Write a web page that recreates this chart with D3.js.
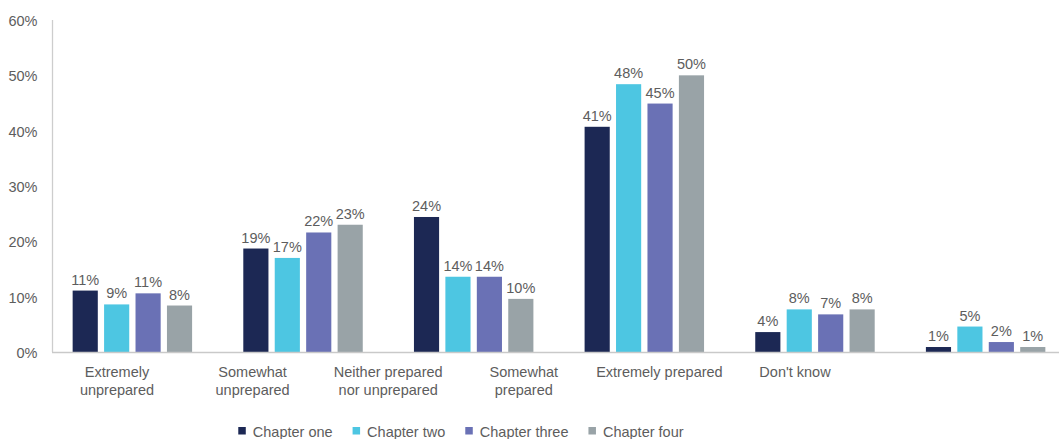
<!DOCTYPE html>
<html>
<head>
<meta charset="utf-8">
<script src="https://cdn.jsdelivr.net/npm/d3@7"></script>
<style>
  html, body { margin: 0; padding: 0; background: #ffffff; }
  svg { display: block; font-family: "Liberation Sans", Arial, sans-serif; }
</style>
</head>
<body>
<svg id="chart" width="1059" height="439"></svg>
<script>
// Survey responses by chapter (percent of respondents)
const categories = [
  "Extremely unprepared",
  "Somewhat unprepared",
  "Neither prepared nor unprepared",
  "Somewhat prepared",
  "Extremely prepared",
  "Don't know"
];
const categoryLines = [
  ["Extremely", "unprepared"],
  ["Somewhat", "unprepared"],
  ["Neither prepared", "nor unprepared"],
  ["Somewhat", "prepared"],
  ["Extremely prepared"],
  ["Don't know"]
];
const series = ["Chapter one", "Chapter two", "Chapter three", "Chapter four"];
const chapterOne   = [11.1, 18.7, 24.4, 40.7, 3.6, 0.9];
const chapterTwo   = [8.6, 17.0, 13.6, 48.4, 7.7, 4.6];
const chapterThree = [10.6, 21.6, 13.6, 44.9, 6.8, 1.8];
const chapterFour  = [8.4, 23.0, 9.6, 50.0, 7.7, 0.9];
const yTicks = [0, 10, 20, 30, 40, 50, 60];
const colors = ["#1c2854", "#4dc6e2", "#6a71b5", "#99a3a7"];

const values = [chapterOne, chapterTwo, chapterThree, chapterFour];
const rows = categories.map((c, i) => ({
  category: c,
  items: series.map((s, j) => ({ series: s, value: values[j][i] }))
}));

const svg = d3.select("#chart");
const W = 1059, H = 439;
const left = 52, baseY = 352, topY = 20;
const textColor = "#5d5d5d";
const fontSize = 14.5;

const y = d3.scaleLinear().domain([0, 60]).range([baseY, topY]);

// bar groups
const x0 = d3.scaleBand()
  .domain(categories)
  .range([left, left + 1014])
  .paddingInner(0.3)
  .paddingOuter(0.121);
const x1 = d3.scaleBand()
  .domain(series)
  .range([0, x0.bandwidth()])
  .paddingInner(0.2);
const color = d3.scaleOrdinal().domain(series).range(colors);

// category labels sit on their own evenly spaced positions
const xLabel = d3.scalePoint().domain(categories).range([117, 795]);

// y axis tick labels
svg.append("g")
  .selectAll("text")
  .data(yTicks)
  .join("text")
  .attr("x", 37.5)
  .attr("y", d => y(d))
  .attr("dy", "0.42em")
  .attr("text-anchor", "end")
  .attr("font-size", fontSize)
  .attr("fill", textColor)
  .text(d => d + "%");

// y axis line
svg.append("line")
  .attr("x1", left + 0.5).attr("x2", left + 0.5)
  .attr("y1", y(60)).attr("y2", baseY)
  .attr("stroke", "#cdcdcd").attr("stroke-width", 1.3);

// bars
const groups = svg.append("g")
  .selectAll("g")
  .data(rows)
  .join("g")
  .attr("transform", d => `translate(${x0(d.category)},0)`);

groups.selectAll("rect")
  .data(d => d.items)
  .join("rect")
  .attr("x", d => x1(d.series))
  .attr("y", d => y(d.value))
  .attr("width", x1.bandwidth())
  .attr("height", d => baseY - y(d.value))
  .attr("fill", d => color(d.series));

groups.selectAll("text")
  .data(d => d.items)
  .join("text")
  .attr("x", d => x1(d.series) + x1.bandwidth() / 2)
  .attr("y", d => y(d.value) - 6)
  .attr("text-anchor", "middle")
  .attr("font-size", fontSize)
  .attr("fill", textColor)
  .text(d => Math.round(d.value) + "%");

// baseline
svg.append("line")
  .attr("x1", left).attr("x2", W)
  .attr("y1", baseY + 0.5).attr("y2", baseY + 0.5)
  .attr("stroke", "#c9c9c9").attr("stroke-width", 1.6);

// category labels
svg.append("g")
  .selectAll("text")
  .data(categories.map((c, i) => ({ c, lines: categoryLines[i] })))
  .join("text")
  .attr("x", d => xLabel(d.c))
  .attr("y", 377)
  .attr("text-anchor", "middle")
  .attr("font-size", fontSize)
  .attr("fill", textColor)
  .selectAll("tspan")
  .data(d => d.lines.map(l => ({ l, x: xLabel(d.c) })))
  .join("tspan")
  .attr("x", d => d.x)
  .attr("dy", (d, i) => i === 0 ? 0 : 17.6)
  .text(d => d.l);

// legend
const legendGap = 20;
const legend = svg.append("g");
const items = legend.selectAll("g")
  .data(series)
  .join("g");
items.append("rect")
  .attr("width", 7.5).attr("height", 7.5)
  .attr("y", 427)
  .attr("fill", d => color(d));
items.append("text")
  .attr("x", 14.5)
  .attr("y", 436.5)
  .attr("font-size", fontSize)
  .attr("fill", textColor)
  .text(d => d);

let offset = 0;
const offsets = [];
items.each(function () {
  offsets.push(offset);
  const w = this.getBBox().width;
  offset += w + legendGap;
});
const total = offset - legendGap;
const startX = 461 - total / 2;
items.attr("transform", (d, i) => `translate(${startX + offsets[i]},0)`);
</script>
</body>
</html>
